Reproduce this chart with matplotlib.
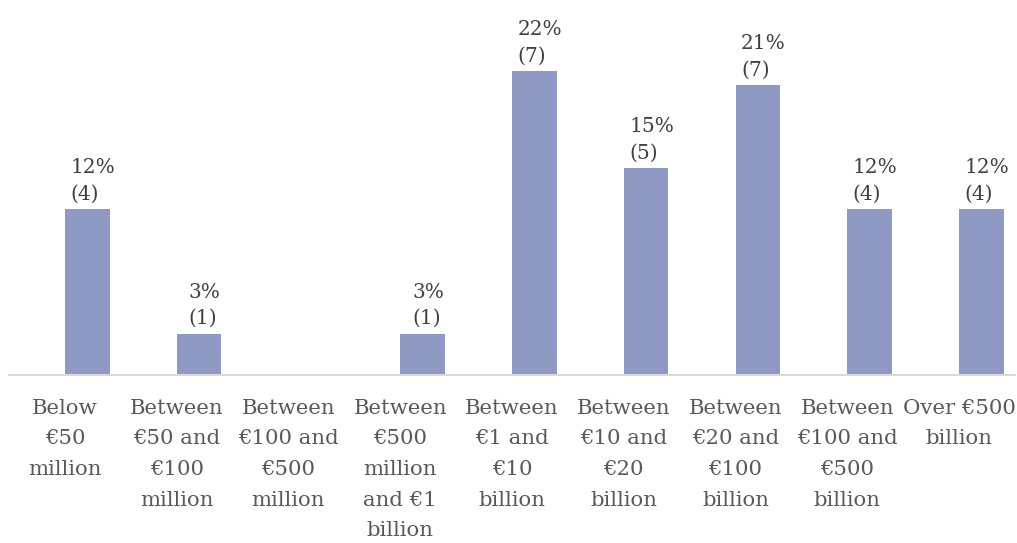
import matplotlib
matplotlib.use("Agg")
import numpy as np
from matplotlib import pyplot as plt

categories = ["Below\n€50\nmillion",
              "Between\n€50 and\n€100\nmillion",
              "Between\n€100 and\n€500\nmillion",
              "Between\n€500\nmillion\nand €1\nbillion",
              "Between\n€1 and\n€10\nbillion",
              "Between\n€10 and\n€20\nbillion",
              "Between\n€20 and\n€100\nbillion",
              "Between\n€100 and\n€500\nbillion",
              "Over €500\nbillion"]
shares = [12, 3, 0, 3, 22, 15, 21, 12, 12]
counts = [4, 1, 0, 1, 7, 5, 7, 4, 4]

BAR_COLOR = "#8f9ac4"
FONT = "DejaVu Serif"

W, H = 1017, 543
fig = plt.figure(figsize=(W / 100, H / 100), dpi=100)
ax = fig.add_axes([9 / W, 168 / H, (1015 - 9) / W, (H - 168) / H])

x = np.arange(len(categories))
bar_width = 0.4
ax.bar(x, shares, width=bar_width, align="edge", color=BAR_COLOR)

ax.set_xlim(-0.5, len(categories) - 0.5)
ax.set_ylim(0, 375 / 13.8)

# percentage and count above each non-empty bar
for xi, s, c in zip(x, shares, counts):
    if s == 0:
        continue
    ax.annotate(f"{s}%\n({c})", (xi + bar_width / 2, s),
                xytext=(4, 4), textcoords="offset points",
                ha="center", va="bottom", multialignment="left",
                fontsize=14.5, family=FONT, color="#404040",
                linespacing=1.5)

ax.set_xticks(x)
ax.set_xticklabels(categories, family=FONT, fontsize=15.3,
                   color="#595959", linespacing=1.78)
ax.tick_params(axis="x", length=0, pad=17)
ax.set_yticks([])
for side in ["top", "right", "left"]:
    ax.spines[side].set_visible(False)
ax.spines["bottom"].set_color("#d9d9d9")
ax.spines["bottom"].set_linewidth(1.5)

fig.savefig("out.png", dpi=100)
